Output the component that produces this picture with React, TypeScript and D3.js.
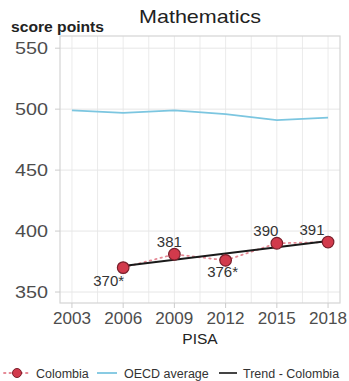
import React from "react";
import * as d3 from "d3";

const years = [2003, 2006, 2009, 2012, 2015, 2018];
const oecd = [499, 497, 499, 496, 491, 493];
const colYears = [2006, 2009, 2012, 2015, 2018];
const colombia = [370, 381, 376, 390, 391];
const colLabels = ["370*", "381", "376*", "390", "391"];
const yTicks = [350, 400, 450, 500, 550];
const labelOffsets: [number, number, string][] = [
  [1, 18, "end"],
  [-5, -7, "middle"],
  [-3, 17, "middle"],
  [-11, -7, "middle"],
  [-16, -7, "middle"],
];

const W = 349, H = 381;
const L = 60, R = 340, T = 36, B = 303;
const FONT = "'Liberation Sans', Arial, sans-serif";

export default function App() {
  const x = d3.scaleLinear().domain([2002.3, 2018.7]).range([L, R]);
  const y = d3.scaleLinear().domain([341, 560]).range([B, T]);

  // linear trend for Colombia
  const n = colYears.length;
  const mx = d3.mean(colYears)!;
  const my = d3.mean(colombia)!;
  const slope =
    d3.sum(colYears.map((v, i) => (v - mx) * (colombia[i] - my))) /
    d3.sum(colYears.map((v) => (v - mx) ** 2));
  const trend = (yr: number) => my + slope * (yr - mx);
  const trendPts: [number, number][] = [colYears[0], colYears[n - 1]].map((yr) => [x(yr), y(trend(yr))]);

  const line = d3.line<[number, number]>().x((d) => d[0]).y((d) => d[1]);
  const oecdPath = line(years.map((yr, i) => [x(yr), y(oecd[i])]))!;
  const colPath = line(colYears.map((yr, i) => [x(yr), y(colombia[i])]))!;
  const trendPath = line(trendPts)!;

  const vGrid: number[] = [];
  for (let v = 2003; v <= 2018; v += 1.5) vGrid.push(v);

  const legY = 373;

  return (
    <svg width={W} height={H} style={{ position: "absolute", left: 0, top: 0, background: "#fff" }} fontFamily={FONT}>
      <text x={200} y={22.5} textAnchor="middle" fontSize={18.5} fill="#222" textLength={122} lengthAdjust="spacingAndGlyphs">
        Mathematics
      </text>
      <text x={11} y={31.5} fontSize={15} fontWeight="bold" fill="#222" textLength={93} lengthAdjust="spacingAndGlyphs">
        score points
      </text>

      {/* grid */}
      {vGrid.map((v) => (
        <line key={"v" + v} x1={x(v)} x2={x(v)} y1={T} y2={B} stroke="#ebebeb" strokeWidth={1} />
      ))}
      {yTicks.map((t) => (
        <line key={"h" + t} x1={L} x2={R} y1={y(t)} y2={y(t)} stroke="#e6e6e6" strokeWidth={1} />
      ))}
      <rect x={L} y={T} width={R - L} height={B - T} fill="none" stroke="#d4d4d4" strokeWidth={1.2} />

      {/* y axis */}
      {yTicks.map((t) => (
        <g key={"yt" + t}>
          <line x1={L - 5} x2={L} y1={y(t)} y2={y(t)} stroke="#ccc" />
          <text x={48} y={y(t) + 6} textAnchor="end" fontSize={16} fill="#4d4d4d" textLength={33} lengthAdjust="spacingAndGlyphs">
            {t}
          </text>
        </g>
      ))}
      {/* x axis */}
      {years.map((yr) => (
        <g key={"xt" + yr}>
          <line x1={x(yr)} x2={x(yr)} y1={B} y2={B + 5} stroke="#ccc" />
          <text x={x(yr)} y={324} textAnchor="middle" fontSize={16} fill="#4d4d4d" textLength={38} lengthAdjust="spacingAndGlyphs">
            {yr}
          </text>
        </g>
      ))}
      <text x={200} y={344} textAnchor="middle" fontSize={15.5} fill="#222">
        PISA
      </text>

      {/* OECD */}
      <path d={oecdPath} fill="none" stroke="#7cc6e0" strokeWidth={1.8} />
      {/* Colombia dotted */}
      <path d={colPath} fill="none" stroke="#e58a96" strokeWidth={1.8} strokeDasharray="1.5 4" strokeLinecap="round" />
      {/* trend */}
      <path d={trendPath} fill="none" stroke="#1a1a1a" strokeWidth={2} />
      {colYears.map((yr, i) => (
        <circle key={"p" + yr} cx={x(yr)} cy={y(colombia[i])} r={5.8} fill="#d23a4c" stroke="#7a1f2b" strokeWidth={1.2} />
      ))}
      {colYears.map((yr, i) => (
        <text
          key={"l" + yr}
          x={x(yr) + labelOffsets[i][0]}
          y={y(colombia[i]) + labelOffsets[i][1]}
          textAnchor={labelOffsets[i][2] as any}
          fontSize={15}
          fill="#333"
        >
          {colLabels[i]}
        </text>
      ))}

      {/* legend */}
      <line x1={4} x2={28} y1={legY} y2={legY} stroke="#e58a96" strokeWidth={1.8} strokeDasharray="1.5 4" strokeLinecap="round" />
      <circle cx={17} cy={legY} r={4.5} fill="#d23a4c" stroke="#7a1f2b" strokeWidth={1} />
      <text x={36} y={legY + 4.5} fontSize={12.5} fill="#333">Colombia</text>
      <line x1={97} x2={117} y1={legY} y2={legY} stroke="#7cc6e0" strokeWidth={1.8} />
      <text x={124} y={legY + 4.5} fontSize={12.5} fill="#333">OECD average</text>
      <line x1={219} x2={237} y1={legY} y2={legY} stroke="#444" strokeWidth={2} />
      <text x={243} y={legY + 4.5} fontSize={12.5} fill="#333">Trend - Colombia</text>
    </svg>
  );
}
